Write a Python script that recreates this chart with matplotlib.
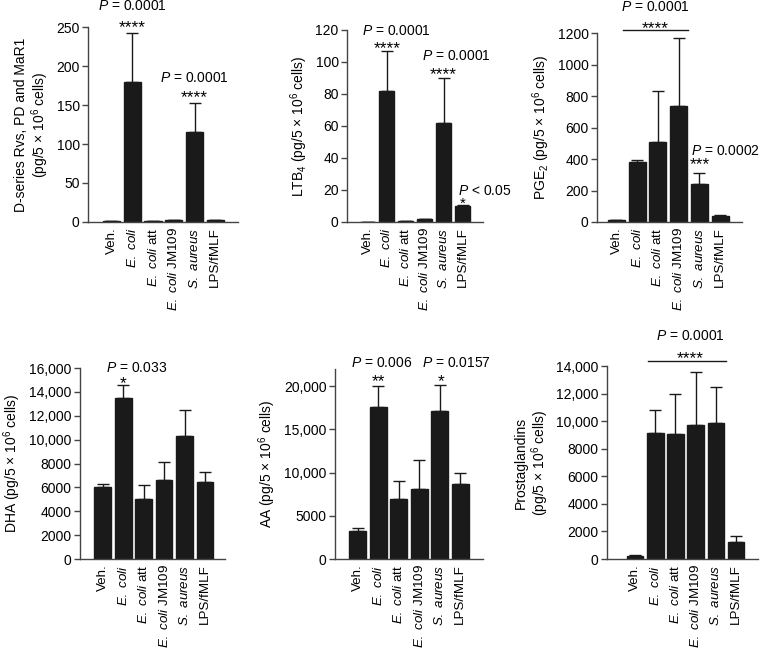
import numpy as np
import matplotlib
matplotlib.use("Agg")
import matplotlib.pyplot as plt

plt.rcParams['font.family'] = ['Liberation Sans', 'DejaVu Sans']
plt.rcParams['mathtext.fontset'] = 'custom'
plt.rcParams['mathtext.rm'] = 'Liberation Sans'
plt.rcParams['mathtext.it'] = 'Liberation Sans:italic'
plt.rcParams['font.size'] = 10

groups = ['Veh.', r'$\mathit{E.\ coli}$', r'$\mathit{E.\ coli}$ att',
          r'$\mathit{E.\ coli}$ JM109', r'$\mathit{S.\ aureus}$', 'LPS/fMLF']

# means and upper error limits
dseries = [1, 179, 1.5, 2.5, 116, 2]
dseries_top = [1, 242, 1.5, 2.5, 153, 2]
ltb4 = [0.3, 82, 0.8, 1.8, 62, 10]
ltb4_top = [0.3, 107, 0.8, 1.8, 90, 10.5]
pge2 = [12, 383, 510, 735, 240, 35]
pge2_top = [15, 395, 830, 1170, 312, 45]
dha = [6050, 13500, 5050, 6600, 10300, 6450]
dha_top = [6250, 14550, 6200, 8150, 12450, 7250]
aa = [3200, 17600, 6900, 8100, 17100, 8700]
aa_top = [3600, 20000, 9000, 11500, 20100, 10000]
pgs = [250, 9150, 9100, 9750, 9850, 1200]
pgs_top = [320, 10800, 12000, 13600, 12500, 1650]

unit = r'(pg/5 × 10$^6$ cells)'

fig = plt.figure(figsize=(7.6, 6.51), dpi=100)

panels = [
    # rect, values, tops, ymax, yticks, ylabel, xlim
    ([0.1158, 0.659, 0.197, 0.2995], dseries, dseries_top, 250, np.arange(0, 251, 50),
     'D-series Rvs, PD and MaR1\n' + unit, (-1.13, 6.08)),
    ([0.4566, 0.659, 0.179, 0.295], ltb4, ltb4_top, 120, np.arange(0, 121, 20),
     r'LTB$_4$ ' + unit, (-1.08, 6.08)),
    ([0.7855, 0.659, 0.191, 0.290], pge2, pge2_top, 1200, np.arange(0, 1201, 200),
     r'PGE$_2$ ' + unit, (-0.94, 6.06)),
    ([0.105, 0.1413, 0.191, 0.2934], dha, dha_top, 16000, np.arange(0, 16001, 2000),
     'DHA ' + unit, (-1.13, 5.98)),
    ([0.4408, 0.1413, 0.1947, 0.292], aa, aa_top, 22000, np.arange(0, 20001, 5000),
     'AA ' + unit, (-1.1, 6.1)),
    ([0.7987, 0.1413, 0.199, 0.296], pgs, pgs_top, 14000, np.arange(0, 14001, 2000),
     'Prostaglandins\n' + unit, (-1.39, 6.1)),
]


def fmt(v):
    v = int(v)
    return f'{v:,}' if v >= 10000 else str(v)


axes = []
x = np.arange(len(groups))
for rect, vals, tops, ymax, yt, ylab, xl in panels:
    ax = fig.add_axes(rect)
    vals = np.array(vals, float)
    tops = np.array(tops, float)
    ax.bar(x, vals, width=0.82, color='#1a1a1a', edgecolor='#1a1a1a', zorder=2)
    err = np.vstack([np.zeros_like(vals), tops - vals])
    ax.errorbar(x, vals, yerr=err, fmt='none', ecolor='#1a1a1a', elinewidth=1,
                capsize=4, capthick=1, zorder=1)
    ax.set_ylim(0, ymax)
    ax.set_xlim(*xl)
    ax.set_yticks(yt)
    ax.set_yticklabels([fmt(v) for v in yt])
    ax.set_xticks(x)
    ax.set_xticklabels(groups, rotation=90, fontsize=9.6)
    ax.tick_params(axis='x', length=0, pad=4)
    ax.tick_params(axis='y', length=4, width=1, color='#444444', pad=2)
    for s in ['top', 'right']:
        ax.spines[s].set_visible(False)
    for s in ['left', 'bottom']:
        ax.spines[s].set_color('#444444')
        ax.spines[s].set_linewidth(1)
    ax.set_ylabel(ylab, fontsize=10, linespacing=1.1)
    axes.append(ax)

P = r'$\mathit{P}$'


def ptext(ax, xx, yy, s, ha='center'):
    ax.text(xx, yy, P + s, ha=ha, va='baseline', fontsize=10, clip_on=False)


def stars(ax, xx, yy, s, size=12.5):
    ax.text(xx, yy, s, ha='center', va='baseline', fontsize=size, clip_on=False)


a1, a2, a3, a4, a5, a6 = axes

ptext(a1, 1, 272, ' = 0.0001')
stars(a1, 1, 243, '****')
ptext(a1, 4, 179, ' = 0.0001')
stars(a1, 4, 154, '****')

ptext(a2, 1.5, 117, ' = 0.0001')
stars(a2, 1.05, 105.5, '****')
ptext(a2, 4.66, 101, ' = 0.0001')
stars(a2, 4, 89.5, '****')
ptext(a2, 4.76, 17, ' < 0.05', ha='left')
stars(a2, 5, 9, '*', size=11)

ptext(a3, 1.86, 1340, ' = 0.0001')
stars(a3, 1.86, 1200, '****')
a3.plot([0.3, 3.45], [1219, 1219], color='#1a1a1a', lw=1, clip_on=False)
ptext(a3, 3.58, 425, ' = 0.0002', ha='left')
stars(a3, 4.03, 335, '***')

ptext(a4, 1.67, 15700, ' = 0.033')
stars(a4, 1, 14320, '*')

ptext(a5, 1.15, 22250, ' = 0.006')
stars(a5, 1, 20000, '**')
ptext(a5, 4.8, 22250, ' = 0.0157')
stars(a5, 4.07, 20000, '*')

ptext(a6, 2.74, 15880, ' = 0.0001')
stars(a6, 2.74, 14210, '****')
a6.plot([0.65, 4.48], [14360, 14360], color='#1a1a1a', lw=1, clip_on=False)

fig.savefig('out.png', dpi=100)
